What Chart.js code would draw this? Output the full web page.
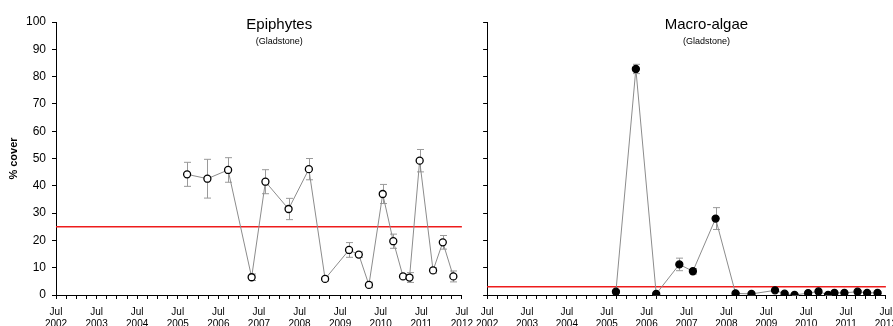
<!DOCTYPE html>
<html>
<head>
<meta charset="utf-8">
<script src="https://cdn.jsdelivr.net/npm/chart.js@4.4.0/dist/chart.umd.min.js"></script>
<style>
  html, body { margin: 0; padding: 0; background: #fff; }
  body { width: 893px; height: 326px; overflow: hidden; position: relative; }
  canvas { position: absolute; top: 0; }
  #left { left: 0; }
  #right { left: 469px; }
</style>
</head>
<body>
<canvas id="left" width="480" height="326"></canvas>
<canvas id="right" width="435" height="326"></canvas>
<script>
// sampling dates (decimal years), same for both panels
const sampleDates = [2005.73, 2006.23, 2006.74, 2007.32, 2007.66, 2008.23, 2008.73, 2009.13, 2009.72, 2009.96,
                     2010.21, 2010.55, 2010.81, 2011.05, 2011.21, 2011.46, 2011.79, 2012.03, 2012.29];

// Epiphytes % cover and standard error
const epiphytes   = [44.2, 42.6, 45.8, 6.5, 41.5, 31.5, 46.1, 5.9, 16.5, 14.8, 3.7, 37.0, 19.7, 6.8, 6.4, 49.2, 9.0, 19.3, 6.8];
const epiphytesSE = [4.4, 7.1, 4.5, 1.2, 4.4, 3.9, 3.9, 0.8, 2.7, 1.0, 1.0, 3.5, 2.6, 0.8, 1.8, 4.1, 1.0, 2.5, 2.0];
const epiphytesGuideline = 25;

// Macro-algae % cover and standard error
const macroAlgae   = [1.2, 82.8, 0.4, 11.2, 8.7, 28.0, 0.6, 0.4, 1.7, 0.5, 0.0, 0.7, 1.3, 0.0, 0.8, 0.8, 1.2, 0.8, 0.8];
const macroAlgaeSE = [0.5, 1.7, 0.3, 2.3, 1.0, 4.0, 0.3, 0.3, 0.4, 0.3, 0.2, 0.3, 0.4, 0.2, 0.3, 0.3, 0.4, 0.3, 0.3];
const macroAlgaeGuideline = 3;

// x axis: Jul 2002 .. Jul 2012, quarterly ticks
const xMin = 2002.5;
const xMax = 2012.5;
const yTicks = [0, 10, 20, 30, 40, 50, 60, 70, 80, 90, 100];

const FONT = 'Arial, "Liberation Sans", sans-serif';

// error bars drawn through the chart scales
const errorBars = {
  id: 'errorBars',
  beforeDatasetsDraw(chart, args, opts) {
    const se = opts.se;
    if (!se) return;
    const ctx = chart.ctx;
    const xs = chart.scales.x, ys = chart.scales.y;
    const pts = chart.data.datasets[0].data;
    ctx.save();
    ctx.strokeStyle = '#9a9a9a';
    ctx.lineWidth = 1;
    pts.forEach((p, i) => {
      const x = Math.round(xs.getPixelForValue(p.x)) + 0.5;
      const yTop = ys.getPixelForValue(p.y + se[i]);
      const yBot = ys.getPixelForValue(Math.max(0, p.y - se[i]));
      ctx.beginPath();
      ctx.moveTo(x, yTop); ctx.lineTo(x, yBot);
      ctx.moveTo(x - 3.5, yTop); ctx.lineTo(x + 3.5, yTop);
      ctx.moveTo(x - 3.5, yBot); ctx.lineTo(x + 3.5, yBot);
      ctx.stroke();
    });
    ctx.restore();
  }
};

// panel title inside the plot area
const panelTitle = {
  id: 'panelTitle',
  afterDraw(chart, args, opts) {
    const ctx = chart.ctx;
    const a = chart.chartArea;
    const cx = a.left + a.width * 0.55;
    ctx.save();
    ctx.fillStyle = '#000';
    ctx.textAlign = 'center';
    ctx.textBaseline = 'middle';
    ctx.font = '15px ' + FONT;
    ctx.fillText(opts.text, cx, a.top + 3);
    ctx.font = '9px ' + FONT;
    ctx.fillText(opts.sub, cx, a.top + 20);
    ctx.restore();
  }
};

function makeChart(id, values, se, guideline, filled, showYLabels, yWidth, padRight) {
  const pts = sampleDates.map((d, i) => ({ x: d, y: values[i] }));
  return new Chart(document.getElementById(id), {
    type: 'line',
    data: {
      datasets: [{
        data: pts,
        borderColor: '#8c8c8c',
        borderWidth: 1,
        tension: 0,
        pointRadius: 3.5,
        pointBorderWidth: 1.3,
        pointBorderColor: '#000',
        pointBackgroundColor: filled ? '#000' : '#fff'
      }, {
        data: [{ x: xMin, y: guideline }, { x: xMax, y: guideline }],
        borderColor: '#ee1c1c',
        borderWidth: 1.5,
        pointRadius: 0
      }]
    },
    options: {
      responsive: false,
      animation: false,
      devicePixelRatio: 1,
      layout: { padding: { top: 22, right: padRight, left: 0, bottom: 0 } },
      plugins: {
        legend: { display: false },
        tooltip: { enabled: false },
        errorBars: { se: se },
        panelTitle: { text: filled ? 'Macro-algae' : 'Epiphytes', sub: '(Gladstone)' }
      },
      scales: {
        x: {
          type: 'linear',
          min: xMin,
          max: xMax,
          afterFit(s) { s.height = 31; },
          border: { color: '#000', width: 1 },
          grid: { drawOnChartArea: false, drawTicks: true, tickLength: 4, color: '#000' },
          ticks: {
            stepSize: 0.25,
            autoSkip: false,
            maxTicksLimit: 60,
            maxRotation: 0,
            minRotation: 0,
            padding: 7,
            color: '#000',
            font: { family: FONT, size: 10, lineHeight: 1.2 },
            callback(v) {
              const yr = v - 0.5;
              if (Math.abs(yr - Math.round(yr)) < 1e-6) return ['Jul', String(Math.round(yr))];
              return '';
            }
          }
        },
        y: {
          min: 0,
          max: 100,
          afterFit(s) { s.width = yWidth; },
          afterBuildTicks(s) { s.ticks = yTicks.map(v => ({ value: v })); },
          border: { color: '#000', width: 1 },
          grid: { drawOnChartArea: false, drawTicks: true, tickLength: 4, color: '#000' },
          ticks: {
            display: showYLabels,
            padding: 6,
            color: '#000',
            font: { family: FONT, size: 12 }
          },
          title: {
            display: showYLabels,
            text: '% cover',
            color: '#000',
            padding: { top: 7, bottom: 0 },
            font: { family: FONT, size: 11, weight: 'bold' }
          }
        }
      }
    },
    plugins: [errorBars, panelTitle]
  });
}

makeChart('left', epiphytes, epiphytesSE, epiphytesGuideline, false, true, 56, 8);
makeChart('right', macroAlgae, macroAlgaeSE, macroAlgaeGuideline, true, false, 16, 10);
</script>
</body>
</html>
